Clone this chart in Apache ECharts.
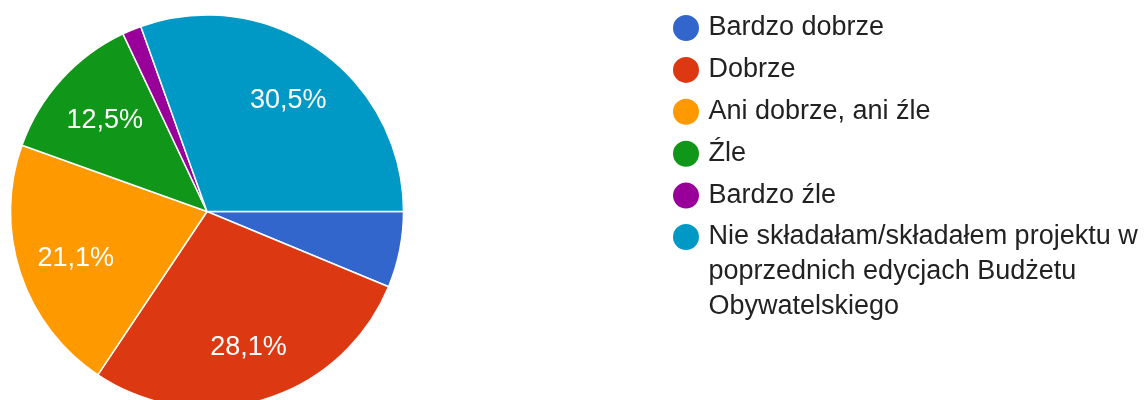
<!DOCTYPE html>
<html>
<head>
<meta charset="utf-8">
<title>Ocena</title>
<script src="https://cdn.jsdelivr.net/npm/echarts@6/dist/echarts.min.js"></script>
<style>
  html, body { margin: 0; padding: 0; background: #fff; }
  #main { width: 1144px; height: 400px; }
</style>
</head>
<body>
<div id="main"></div>
<script>
// odpowiedzi (liczba osób)
var categories = ['Bardzo dobrze', 'Dobrze', 'Ani dobrze, ani źle', 'Źle', 'Bardzo źle',
  'Nie składałam/składałem projektu w poprzednich edycjach Budżetu Obywatelskiego'];
var counts = [8, 36, 27, 16, 2, 39];
var colors = ['#3366cc', '#dc3912', '#ff9900', '#109618', '#990099', '#0099c6'];

var font = 'Arial, "Liberation Sans", sans-serif';
var fontSize = 27;
var myChart = echarts.init(document.getElementById('main'));

// zawijanie długiej nazwy w legendzie
var ctx = document.createElement('canvas').getContext('2d');
ctx.font = fontSize + 'px ' + font;
function wrap(text, maxW) {
  var words = text.split(' '), lines = [], cur = '';
  words.forEach(function (w) {
    var t = cur ? cur + ' ' + w : w;
    if (cur && ctx.measureText(t).width > maxW) { lines.push(cur); cur = w; }
    else cur = t;
  });
  if (cur) lines.push(cur);
  return lines;
}

var pieData = categories.map(function (c, i) {
  return { name: c, value: counts[i], itemStyle: { color: colors[i] } };
});

var legendText = {
  color: '#222',
  fontFamily: font,
  fontSize: fontSize,
  lineHeight: 35
};

var option = {
  animation: false,
  legend: [{
    orient: 'vertical',
    left: 671,
    top: 10.5,
    padding: 0,
    itemGap: 6.9,
    itemWidth: 35,
    itemHeight: 28,
    icon: 'circle',
    symbolKeepAspect: true,
    data: categories.slice(0, 5),
    textStyle: legendText,
    selectedMode: false
  }, {
    orient: 'vertical',
    left: 671,
    top: 149.5,
    padding: 0,
    itemWidth: 35,
    itemHeight: 28,
    icon: 'circle',
    symbolKeepAspect: true,
    data: categories.slice(5),
    textStyle: legendText,
    // puste linie u góry, żeby ikona stała przy pierwszej linii
    formatter: function (name) {
      var lines = wrap(name, 440);
      var pad = [];
      for (var i = 1; i < lines.length; i++) pad.push('');
      return pad.concat(lines).join('\n');
    },
    selectedMode: false
  }],
  series: [{
    type: 'pie',
    center: [207, 211.5],
    radius: [0, 196.5],
    startAngle: 0,
    clockwise: true,
    label: { show: false },
    labelLine: { show: false },
    emphasis: { disabled: true },
    itemStyle: { borderColor: '#fff', borderWidth: 1.5 },
    data: pieData
  }, {
    // tylko etykiety procentowe
    type: 'pie',
    center: [207, 211.5],
    radius: [76, 196.5],
    startAngle: 0,
    clockwise: true,
    silent: true,
    percentPrecision: 1,
    emphasis: { disabled: true },
    itemStyle: { color: 'rgba(0,0,0,0)' },
    label: {
      show: true,
      position: 'inside',
      color: '#fff',
      fontFamily: font,
      fontSize: fontSize,
      offset: [1, 3],
      formatter: function (p) {
        if (p.percent < 10) return '';
        return p.percent.toFixed(1).replace('.', ',') + '%';
      }
    },
    data: categories.map(function (c, i) { return { name: c, value: counts[i] }; })
  }]
};

myChart.setOption(option);
</script>
</body>
</html>
